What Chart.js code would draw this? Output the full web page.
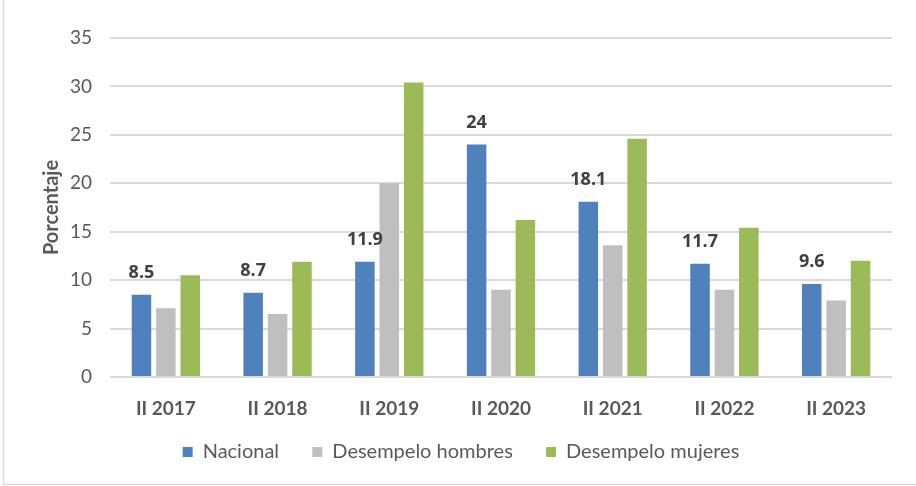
<!DOCTYPE html>
<html>
<head>
<meta charset="utf-8">
<script src="https://cdn.jsdelivr.net/npm/chart.js@4.4.0/dist/chart.umd.min.js"></script>
<style>
  html, body { margin: 0; padding: 0; background: #fff; }
  canvas { display: block; }
</style>
</head>
<body>
<canvas id="barChart" width="916" height="486"></canvas>
<script>
const labels = ['II 2017', 'II 2018', 'II 2019', 'II 2020', 'II 2021', 'II 2022', 'II 2023'];
const nacional = [8.5, 8.7, 11.9, 24, 18.1, 11.7, 9.6];
const hombres = [7.1, 6.5, 20.0, 9.0, 13.6, 9.0, 7.9];
const mujeres = [10.5, 11.9, 30.4, 16.2, 24.6, 15.4, 12.0];
const yTicks = [0, 5, 10, 15, 20, 25, 30, 35];

const axisFont = 'Lato, "Liberation Sans", sans-serif';
const textGray = '#595959';

// valores sobre la serie Nacional
const valueLabels = {
    id: 'valueLabels',
    afterDatasetsDraw(chart) {
        const ctx = chart.ctx;
        const meta = chart.getDatasetMeta(0);
        ctx.save();
        ctx.font = 'bold 18px "Open Sans", "Noto Sans", sans-serif';
        ctx.fillStyle = '#404040';
        ctx.textAlign = 'center';
        ctx.textBaseline = 'alphabetic';
        meta.data.forEach((bar, i) => {
            ctx.fillText(String(nacional[i]), bar.x, bar.y - 17);
        });
        ctx.restore();
    }
};

// marco del grafico (izquierda y abajo)
const frame = {
    id: 'frame',
    beforeDraw(chart) {
        const ctx = chart.ctx;
        ctx.save();
        ctx.strokeStyle = '#d9d9d9';
        ctx.lineWidth = 1.5;
        ctx.beginPath();
        ctx.moveTo(3.5, 0);
        ctx.lineTo(3.5, 484.5);
        ctx.lineTo(chart.width, 484.5);
        ctx.stroke();
        ctx.restore();
    }
};

const config = {
    type: 'bar',
    data: {
        labels: labels,
        datasets: [
            { label: 'Nacional', data: nacional, backgroundColor: '#4f81bd' },
            { label: 'Desempelo hombres', data: hombres, backgroundColor: '#bfbfbf' },
            { label: 'Desempelo mujeres', data: mujeres, backgroundColor: '#9bbb59' }
        ]
    },
    options: {
        responsive: false,
        animation: false,
        layout: { padding: { top: 38, right: 24, bottom: 14, left: 30 } },
        datasets: {
            bar: { categoryPercentage: 0.655, barPercentage: 0.8 }
        },
        scales: {
            x: {
                grid: { display: false },
                border: { display: false },
                ticks: {
                    color: textGray,
                    font: { family: axisFont, size: 19, weight: 'bold' },
                    padding: 12,
                    maxRotation: 0
                },
                afterFit(scale) { scale.height = 42; }
            },
            y: {
                min: 0,
                max: 35,
                afterBuildTicks(scale) { scale.ticks = yTicks.map(v => ({ value: v })); },
                grid: { color: '#d9d9d9', lineWidth: 2, drawTicks: false },
                border: { display: false },
                ticks: {
                    color: textGray,
                    font: { family: axisFont, size: 19 },
                    padding: 18
                },
                title: {
                    display: true,
                    text: 'Porcentaje',
                    color: textGray,
                    font: { family: axisFont, size: 20, weight: 'bold' },
                    padding: { top: 10, bottom: 0 }
                },
                afterFit(scale) { scale.width = 80; }
            }
        },
        plugins: {
            legend: {
                position: 'bottom',
                labels: {
                    color: textGray,
                    font: { family: axisFont, size: 20 },
                    boxWidth: 10,
                    boxHeight: 10,
                    padding: 23,
                    generateLabels(chart) {
                        const items = Chart.defaults.plugins.legend.labels.generateLabels(chart);
                        items.forEach((it, i) => { if (i < items.length - 1) it.text = it.text + '  '; });
                        return items;
                    }
                }
            },
            tooltip: { enabled: false }
        }
    },
    plugins: [valueLabels, frame]
};

const bar = document.getElementById('barChart');
const barChart = new Chart(bar, config);
</script>
</body>
</html>
